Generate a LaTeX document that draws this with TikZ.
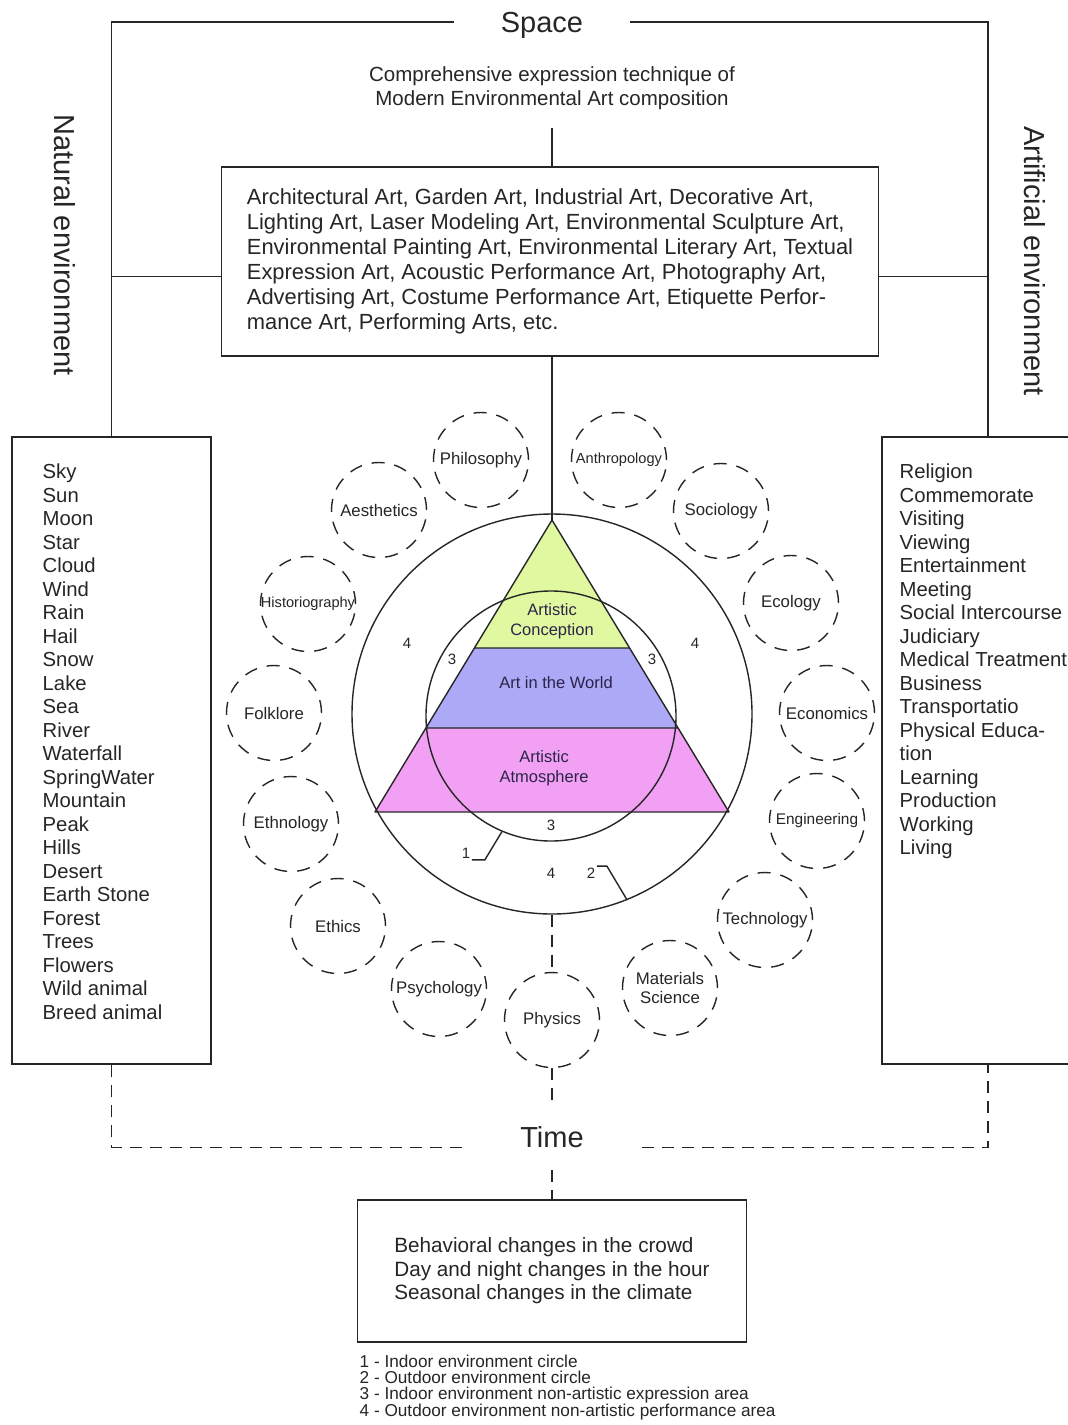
\documentclass[tikz,border=0pt]{standalone}
\usepackage{fontspec}
\setmainfont{Liberation Sans}
\usetikzlibrary{calc}
\definecolor{conception}{HTML}{E0F8A0}
\definecolor{world}     {HTML}{ACA9F6}
\definecolor{atmosphere}{HTML}{F2A0F4}
\definecolor{ink}       {HTML}{262626}
\definecolor{deep}      {HTML}{2A2448}
\newcommand{\fsz}[2]{\fontsize{#1}{#2}\selectfont}

\begin{document}
\begin{tikzpicture}[x=1pt, y=-1pt, line width=1.4pt, color=ink,
    framebox/.style={draw, rectangle, inner sep=0pt},
    headword/.style={font=\fsz{29pt}{32pt}},
    listtext/.style={anchor=north west, align=left, inner sep=0pt, font=\fsz{20.3pt}{23.5pt}},
    discipline/.style={draw, circle, dash pattern=on 13pt off 10pt, minimum size=95pt,
      inner sep=0pt, align=center, font=\fsz{16.8pt}{19.5pt}},
    zone/.style={inner sep=1pt, font=\fsz{15pt}{17pt}},
    layer/.style={text=deep, align=center, font=\fsz{16.5pt}{20pt}},
    timeline/.style={dash pattern=on 12pt off 8pt}]
    \fill[white, use as bounding box] (0,0) rectangle (1068,1425);

    % space frame
    \node[headword, text depth=0pt, inner xsep=46pt] (space) at (542,22) {Space};
    \node[headword, rotate=-90] (natural) at (65,245) {Natural environment};
    \node[headword, rotate=-90] (artificial) at (1035,261) {Artificial environment};
    \node[align=center, inner ysep=18pt, font=\fsz{20.5pt}{24pt}] (comp) at (552,88)
      {Comprehensive expression technique of\\Modern Environmental Art composition};
    \node[framebox, minimum width=657pt, minimum height=189pt, align=left,
      font=\fsz{21.9pt}{25pt}] (arts) at (550,261.5)
      {Architectural Art, Garden Art, Industrial Art, Decorative Art,\\
       Lighting Art, Laser Modeling Art, Environmental Sculpture Art,\\
       Environmental Painting Art, Environmental Literary Art, Textual\\
       Expression Art, Acoustic Performance Art, Photography Art,\\
       Advertising Art, Costume Performance Art, Etiquette Perfor-\\
       mance Art, Performing Arts, etc.};

    \node[framebox, minimum width=199pt, minimum height=627pt] (natbox) at (111.5,750.5) {};
    \node[listtext] (natlist) at (42,463.5)
      {Sky\\Sun\\Moon\\Star\\Cloud\\Wind\\Rain\\Hail\\Snow\\Lake\\Sea\\River\\
       Waterfall\\SpringWater\\Mountain\\Peak\\Hills\\Desert\\Earth Stone\\
       Forest\\Trees\\Flowers\\Wild animal\\Breed animal};
    \node[framebox, minimum width=212pt, minimum height=627pt] (artbox) at (988,750.5) {};
    \node[listtext] (artlist) at (899,463.5)
      {Religion\\Commemorate\\Visiting\\Viewing\\Entertainment\\Meeting\\
       Social Intercourse\\Judiciary\\Medical Treatment\\Business\\Transportatio\\
       Physical Educa-\\tion\\Learning\\Production\\Working\\Living};

    \draw (space.west) -| (natbox.north);
    \draw (space.east) -| (artbox.north);
    \draw ([yshift=-15pt]arts.west) -| (natbox.north);
    \draw ([yshift=-15pt]arts.east) -| (artbox.north);
    \draw (comp.south) -- (comp.south |- arts.north);

    % pyramid
    \coordinate (apex) at (552,520);
    \coordinate (bl) at (375,812);
    \coordinate (br) at (729,812);
    \coordinate (l1) at ($(apex)!0.4384!(bl)$);
    \coordinate (r1) at ($(apex)!0.4384!(br)$);
    \coordinate (l2) at ($(apex)!0.7123!(bl)$);
    \coordinate (r2) at ($(apex)!0.7123!(br)$);
    \fill[conception] (apex) -- (l1) -- (r1) -- cycle;
    \fill[world] (l1) -- (l2) -- (r2) -- (r1) -- cycle;
    \fill[atmosphere] (l2) -- (bl) -- (br) -- (r2) -- cycle;
    \draw[line join=round] (apex) -- (bl) -- (br) -- cycle (l1) -- (r1) (l2) -- (r2);
    \draw (arts.south -| apex) -- (apex);

    \node[draw, circle, minimum size=400pt, inner sep=0pt] (outer) at (552,714) {};
    \node[draw, circle, minimum size=250pt, inner sep=0pt] (inner) at (551,716) {};

    \node[layer] (concept) at (552,621) {Artistic\\Conception};
    \node[layer] (inworld) at (556,683) {Art in the World};
    \node[layer] (atmos) at (544,768) {Artistic\\Atmosphere};

    \node[zone] (outL) at (407,643) {4};
    \node[zone] (inL) at (452,659) {3};
    \node[zone] (inR) at (652,659) {3};
    \node[zone] (outR) at (695,643) {4};
    \node[zone] (inB) at (551,825) {3};
    \node[zone] (outB) at (551,873) {4};
    \node[zone] (lab1) at (466,853) {1};
    \node[zone] (lab2) at (591,873) {2};
    \draw (lab1.south east) -- ++(13,0) -- (inner.247.5);
    \draw (lab2.north east) -- ++(10,0) -- (outer.292.6);

    % disciplines
    \node[discipline] (phil) at (481,460) {Philosophy};
    \node[discipline] (anth) at (619,460) {\fsz{14.6pt}{17pt}Anthropology};
    \node[discipline] (aest) at (379,510) {Aesthetics};
    \node[discipline] (soci) at (721,511) {Sociology};
    \node[discipline] (hist) at (308,604) {\fsz{14.6pt}{17pt}Historiography};
    \node[discipline] (ecol) at (791,603) {Ecology};
    \node[discipline] (folk) at (274,713) {Folklore};
    \node[discipline] (econ) at (827,713) {Economics};
    \node[discipline] (ethn) at (291,824) {Ethnology};
    \node[discipline] (engi) at (817,821) {\fsz{15.4pt}{18pt}Engineering};
    \node[discipline] (ethi) at (338,926) {Ethics};
    \node[discipline] (tech) at (765,920) {Technology};
    \node[discipline] (psyc) at (439,989) {Psychology};
    \node[discipline] (mats) at (670,988) {Materials\\Science};
    \node[discipline] (phys) at (552,1020) {Physics};

    % time frame
    \node[headword, inner xsep=58pt, inner ysep=22pt] (time) at (552,1137) {Time};
    \node[framebox, minimum width=389pt, minimum height=142pt, align=left,
      font=\fsz{20.7pt}{23.5pt}] (timebox) at (552,1271)
      {Behavioral changes in the crowd\\Day and night changes in the hour\\
       Seasonal changes in the climate};
    \draw[timeline] (outer.south) -- (phys.north);
    \draw[timeline] (phys.south) -- (time.north);
    \draw[timeline] (time.south) -- (timebox.north);
    \draw[timeline] (time.base west) -| (natbox.south);
    \draw[timeline] (time.base east) -| (artbox.south);

    \node[anchor=north west, align=left, inner sep=0pt, font=\fsz{17.2pt}{16pt}] (legend)
      at (359,1354)
      {1 - Indoor environment circle\\2 - Outdoor environment circle\\
       3 - Indoor environment non-artistic expression area\\
       4 - Outdoor environment non-artistic performance area};
\end{tikzpicture}
\end{document}
